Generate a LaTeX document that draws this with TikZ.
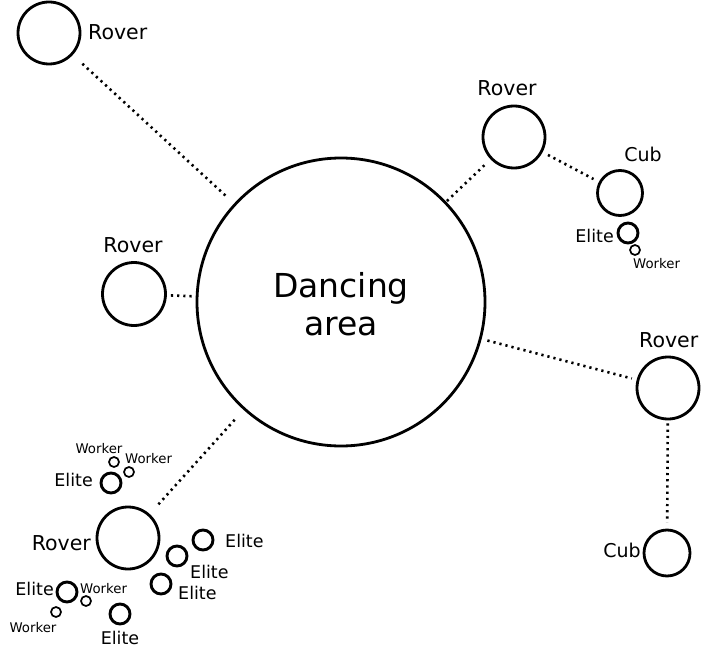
\documentclass[tikz,border=0pt]{standalone}
\usepackage{fontspec}
\setmainfont{DejaVu Sans}
\begin{document}
\begin{tikzpicture}[x=1pt,y=-1pt,
  ring/.style={circle,draw,line width=2.8pt,inner sep=0pt,minimum size=#1},
  elite/.style={circle,draw,line width=2.9pt,inner sep=0pt,minimum size=20pt},
  worker/.style={circle,draw,line width=1.7pt,inner sep=0pt,minimum size=10pt},
  dotline/.style={line width=2.6pt,dash pattern=on 2.2pt off 4pt},
  lbl/.style={inner sep=0pt,font=\fontsize{20.5}{24}\selectfont},
  cublbl/.style={inner sep=0pt,font=\fontsize{19}{22}\selectfont},
  elbl/.style={inner sep=0pt,font=\fontsize{17.5}{20}\selectfont},
  wlbl/.style={inner sep=0pt,font=\fontsize{13.3}{16}\selectfont}]
\useasboundingbox (0,0) rectangle (701,655);

% main circle
\node[ring=288pt] (big) at (341,302) {};
\node[inner sep=0pt,align=center,font=\fontsize{33}{38}\selectfont] (bigt) at (341,304) {Dancing\\area};

% rovers
\node[ring=62pt] (r1) at (49,33) {};
\node[lbl,anchor=base west] (r1l) at (88,40) {Rover};
\node[ring=63pt] (r2) at (134,294) {};
\node[lbl,anchor=base] (r2l) at (133,252) {Rover};
\node[ring=62pt] (r3) at (514,137) {};
\node[lbl,anchor=base] (r3l) at (507,96) {Rover};
\node[ring=62pt] (r4) at (668,388) {};
\node[lbl,anchor=base west] (r4l) at (639,347) {Rover};
\node[ring=62pt] (r5) at (128,538) {};
\node[lbl,anchor=base east] (r5l) at (91,550) {Rover};

% cubs
\node[ring=45pt] (c1) at (620,193) {};
\node[cublbl,anchor=base] (c1l) at (643,162) {Cub};
\node[ring=46pt] (c2) at (667,553) {};
\node[cublbl,anchor=base east] (c2l) at (641,557) {Cub};

% top-right elite / worker
\node[elite] (e1) at (628,233) {};
\node[elbl,anchor=base east] (e1l) at (614,242) {Elite};
\node[worker] (w1) at (635,250) {};
\node[wlbl,anchor=base west] (w1l) at (633,268) {Worker};

% bottom-left cluster
\node[elite] (e2) at (111,483) {};
\node[elbl,anchor=base east] (e2l) at (93,486) {Elite};
\node[worker] (w2) at (114,462) {};
\node[wlbl,anchor=base] (w2l) at (99,453) {Worker};
\node[worker] (w3) at (129,472) {};
\node[wlbl,anchor=base west] (w3l) at (125,463) {Worker};

\node[elite] (e3) at (203,540) {};
\node[elbl,anchor=base west] (e3l) at (225,547) {Elite};
\node[elite] (e4) at (177,556) {};
\node[elbl,anchor=base west] (e4l) at (190,578) {Elite};
\node[elite] (e5) at (161,584) {};
\node[elbl,anchor=base west] (e5l) at (178,599) {Elite};
\node[elite] (e6) at (120,614) {};
\node[elbl,anchor=base] (e6l) at (120,644) {Elite};
\node[elite] (e7) at (67,592) {};
\node[elbl,anchor=base east] (e7l) at (54,595) {Elite};
\node[worker] (w4) at (86,601) {};
\node[wlbl,anchor=base west] (w4l) at (80,593) {Worker};
\node[worker] (w5) at (56,612) {};
\node[wlbl,anchor=base] (w5l) at (33,632) {Worker};

% connectors
\draw[dotline,shorten <=13pt,shorten >=10pt] (r1) -- (big);
\draw[dotline,shorten <=4pt,shorten >=4pt] (r2) -- (big);
\draw[dotline,shorten <=1pt,shorten >=8pt] (big) -- (r3);
\draw[dotline,shorten <=6pt,shorten >=6pt] (r3) -- (c1);
\draw[dotline,shorten <=6pt,shorten >=5pt] (big) -- (r4);
\draw[dotline,shorten <=3pt,shorten >=6pt] (r4) -- (c2);
\draw[dotline,shorten <=13pt,shorten >=11pt] (r5) -- (big);
\end{tikzpicture}
\end{document}
